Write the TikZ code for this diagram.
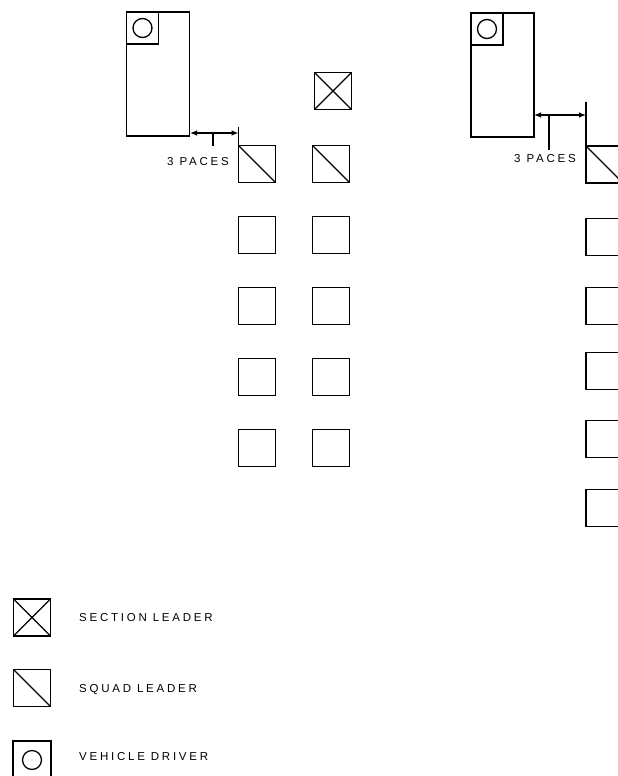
\documentclass[tikz,border=0pt]{standalone}
\usepackage{fontspec}
\setmainfont{Liberation Sans}
\usetikzlibrary{arrows.meta,positioning}
\newcommand{\caps}{\fontsize{11.5}{13}\selectfont\addfontfeature{LetterSpace=24}}

\begin{document}
\begin{tikzpicture}[x=1pt,y=-1pt,
  man/.style={draw,line width=1.4pt,minimum size=37pt,inner sep=0pt,outer sep=0pt},
  squadman/.style={man,path picture={\draw[line width=1.3pt] (path picture bounding box.north west) -- (path picture bounding box.south east);}},
  sectionman/.style={man,path picture={\draw[line width=1.3pt] (path picture bounding box.north west) -- (path picture bounding box.south east) (path picture bounding box.north east) -- (path picture bounding box.south west);}},
  truck/.style={draw,line width=1.4pt,minimum width=63pt,minimum height=124pt,inner sep=0pt,outer sep=0pt},
  driver/.style={draw,line width=1.3pt,minimum size=32pt,inner sep=0pt,outer sep=0pt,path picture={\draw[line width=1.3pt] (path picture bounding box.center) circle (9.5pt);}},
  tag/.style={font=\caps,inner sep=0pt,anchor=west},
  pace/.style={{Latex[length=7pt,width=5.5pt]}-{Latex[length=7pt,width=5.5pt]},line width=1.2pt},
  stem/.style={line width=1.2pt}
]
\clip (0,0) rectangle (618,776);
\useasboundingbox (0,0) rectangle (618,776);

% left section
\node[truck] (vehL) at (158,74) {};
\node[driver,anchor=north west] (drvL) at (vehL.north west) {};
\node[sectionman] (secL) at (333,91) {};
\node[squadman] (sqdL1) at (257,164) {};
\node[squadman] (sqdL2) at (331,164) {};
\foreach \y [count=\i] in {235,306,377,448} {
  \node[man] (cL1\i) at (257,\y) {};
  \node[man] (cL2\i) at (331,\y) {};
}
\coordinate (arL) at (190,133);
\coordinate (tkL) at (238.5,127);
\coordinate (stL) at (213,133);
\draw[stem] (tkL) -- (sqdL1.north west);
\draw[pace] (arL) -- (arL -| tkL);
\draw[stem] (stL) -- ++(0,13);
\node[font=\caps,inner sep=0pt] (paceL) at (198,162) {3 PACES};

% right section
\node[truck] (vehR) at (502.5,75) {};
\node[driver,anchor=north west] (drvR) at (vehR.north west) {};
\node[squadman] (sqdR) at (604.5,164.5) {};
\foreach \y [count=\i] in {237,306,371,439,508} {
  \node[man] (cR\i) at (604.5,\y) {};
}
\coordinate (arR) at (534,115);
\coordinate (tkR) at (586,102);
\coordinate (stR) at (549,115);
\draw[stem] (tkR) -- (sqdR.north west);
\draw[pace] (arR) -- (arR -| tkR);
\draw[stem] (stR) -- ++(0,35);
\node[font=\caps,inner sep=0pt] (paceR) at (545,159) {3 PACES};

% legend
\node[sectionman] (keySec) at (32,617.5) {};
\node[squadman] (keySqd) at (32,688) {};
\node[driver,minimum size=38pt] (keyDrv) at (32,760) {};
\node[tag] (txtSec) at (79,618) {SECTION LEADER};
\node[tag] (txtSqd) at (79,690) {SQUAD LEADER};
\node[tag] (txtDrv) at (79,757) {VEHICLE DRIVER};
\end{tikzpicture}
\end{document}
